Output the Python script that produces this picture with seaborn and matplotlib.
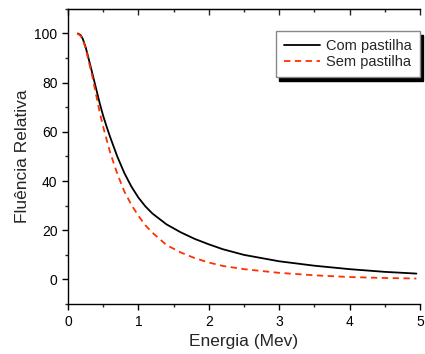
import numpy as np
import pandas as pd
import matplotlib
matplotlib.use("Agg")
import matplotlib.pyplot as plt
import seaborn as sns

energia_com = [0.14, 0.18, 0.21, 0.25, 0.3, 0.35, 0.4, 0.45, 0.5, 0.55, 0.6, 0.7, 0.8, 0.9, 1.0, 1.1, 1.2, 1.4, 1.6, 1.8, 2.0, 2.2, 2.5, 3.0, 3.5, 4.0, 4.5, 4.95]
fluencia_com = [100, 99.3, 97.8, 94.5, 89, 83.3, 77.5, 71.7, 66.5, 62, 57.8, 50, 43.3, 37.8, 33.3, 29.7, 26.8, 22.4, 19.2, 16.5, 14.3, 12.3, 10, 7.4, 5.6, 4.2, 3.1, 2.4]
energia_sem = [0.13, 0.18, 0.21, 0.25, 0.3, 0.35, 0.4, 0.45, 0.5, 0.6, 0.7, 0.8, 0.9, 1.0, 1.1, 1.2, 1.4, 1.6, 1.8, 2.0, 2.2, 2.5, 3.0, 3.5, 4.0, 4.5, 4.95]
fluencia_sem = [100, 99, 97.5, 94, 88, 82, 75, 68, 62, 51.5, 43, 35.8, 30.4, 25.9, 22, 19, 14, 11, 8.7, 6.9, 5.5, 4.2, 2.7, 1.7, 1.0, 0.6, 0.4]
series_names = ["Com pastilha", "Sem pastilha"]

df = pd.concat([
    pd.DataFrame({"E": energia_com, "F": fluencia_com, "s": series_names[0]}),
    pd.DataFrame({"E": energia_sem, "F": fluencia_sem, "s": series_names[1]}),
])

sns.set_style("ticks")
plt.rcParams['font.family'] = ['Liberation Sans', 'DejaVu Sans']

fig = plt.figure(figsize=(4.25, 3.54), dpi=100)
ax = fig.add_axes([0.16, 0.141, 0.828, 0.834])

sns.lineplot(data=df, x="E", y="F", hue="s", style="s",
             palette={series_names[0]: "black", series_names[1]: "#ff3000"},
             dashes={series_names[0]: "", series_names[1]: (3.5, 2.5)},
             linewidth=1.3, ax=ax, sort=False)

ax.set_xlim(0, 5)
ax.set_ylim(-10, 110)
ax.set_xticks([0, 1, 2, 3, 4, 5])
ax.set_xticks(np.arange(0.5, 5, 1), minor=True)
ax.set_yticks([0, 20, 40, 60, 80, 100])
ax.set_yticks(np.arange(-10, 111, 20), minor=True)
ax.spines['right'].set_visible(False)
for sp in ['left', 'bottom', 'top']:
    ax.spines[sp].set_linewidth(1.0)
    ax.spines[sp].set_color('black')
ax.tick_params(which='major', direction='out', length=4, width=1, labelsize=10, colors='black')
ax.tick_params(which='minor', direction='out', length=2.5, width=1)

sec = ax.secondary_xaxis('top')
sec.set_xticks([0, 1, 2, 3, 4, 5])
sec.set_xticks(np.arange(0.5, 5, 1), minor=True)
sec.tick_params(which='major', direction='in', length=4, width=1, labeltop=False)
sec.tick_params(which='minor', direction='in', length=2.5, width=1)

ax.set_xlabel("Energia (Mev)", fontsize=12.5, labelpad=4)
ax.set_ylabel("Fluência Relativa", fontsize=12.5, labelpad=3)

leg = ax.legend(loc='upper right', bbox_to_anchor=(1.0, 0.925), borderaxespad=0,
                fontsize=10.5, frameon=True, fancybox=False,
                shadow={'color': 'black', 'alpha': 1, 'ox': 2.5, 'oy': -3},
                handlelength=2.5, borderpad=0.55, labelspacing=0.12, handletextpad=0.4)
leg.get_frame().set_edgecolor('#888888')
leg.get_frame().set_linewidth(1.0)
leg.get_frame().set_alpha(1)

fig.savefig("out.png", dpi=100)
